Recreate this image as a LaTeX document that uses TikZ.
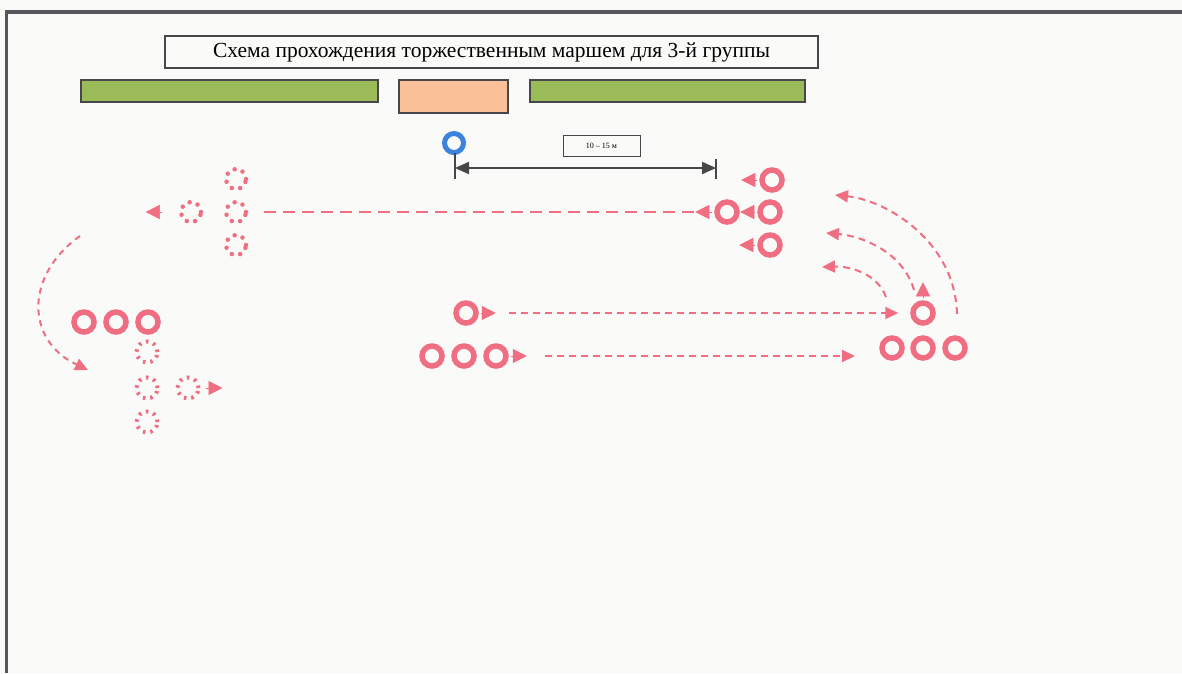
\documentclass[tikz,border=0pt]{standalone}
\usepackage{fontspec}
\setmainfont{Liberation Serif}
\usetikzlibrary{arrows.meta}
\definecolor{rd}{RGB}{240,110,130}
\definecolor{bg}{RGB}{250,250,248}
\definecolor{frm}{RGB}{88,86,92}
\definecolor{grn}{RGB}{155,187,89}
\definecolor{pch}{RGB}{250,192,152}
\definecolor{blu}{RGB}{60,130,222}
\definecolor{dim}{RGB}{70,70,75}
\begin{document}
\begin{tikzpicture}[x=1pt,y=-1pt,
  rc/.style={circle,draw=rd,line width=5.5pt,minimum size=20pt,inner sep=0pt},
  dcd/.style={circle,draw=rd,line width=4.5pt,minimum size=20pt,inner sep=0pt,dash pattern=on 0pt off 8.5pt,line cap=round},
  dcs/.style={circle,draw=rd,line width=4pt,minimum size=21pt,inner sep=0pt,dash pattern=on 2.5pt off 5pt},
  tipl/.style={draw=rd,line width=0.5pt,-{Triangle[length=14pt,width=14pt]}},
  longdash/.style={draw=rd,line width=2pt,dash pattern=on 12pt off 7pt},
  shortdash/.style={draw=rd,line width=2pt,dash pattern=on 7pt off 5pt,-{Triangle[length=13pt,width=12pt]}},
  bar/.style={draw=dim,line width=1.5pt,inner sep=0pt},
]
\fill[bg] (0,0) rectangle (1182,673);
\useasboundingbox (0,0) rectangle (1182,673);
% frame
\draw[frm,line width=4pt] (5,12) -- (1182,12);
\draw[frm,line width=3pt] (6.5,12) -- (6.5,673);
% title
\node[draw=dim,line width=1.2pt,minimum width=653pt,minimum height=32pt,inner sep=0pt,font=\fontsize{21.5}{24}\selectfont] (title) at (491.5,52) {Схема прохождения торжественным маршем для 3-й группы};
% bars
\node[bar,fill=grn,minimum width=297pt,minimum height=22pt] (gl) at (229.5,91) {};
\node[bar,fill=pch,minimum width=109pt,minimum height=33pt] (pk) at (453.5,96.5) {};
\node[bar,fill=grn,minimum width=275pt,minimum height=22pt] (gr) at (667.5,91) {};
% blue circle and dimension
\node[circle,draw=blu,line width=5pt,minimum size=19pt,inner sep=0pt] (bc) at (454,143) {};
\coordinate (tl1) at (455,153);
\coordinate (tl2) at (455,179);
\coordinate (tr1) at (716,159);
\coordinate (tr2) at (716,179);
\draw[dim,line width=2pt] (tl1) -- (tl2);
\draw[dim,line width=2pt] (tr1) -- (tr2);
\coordinate (dl) at (455,168);
\coordinate (dr) at (716,168);
\draw[dim,line width=2pt,{Triangle[length=14pt,width=12pt]}-{Triangle[length=14pt,width=12pt]}] (dl) -- (dr);
\node[draw=dim,line width=1pt,minimum width=77pt,minimum height=21pt,inner sep=0pt,font=\fontsize{8}{9}\selectfont] (lbl) at (601.5,146) {10 – 15 м};
% right group facing left
\node[rc] (r1) at (772,180) {};
\node[rc] (r2) at (770,212) {};
\node[rc] (r3) at (770,245) {};
\node[rc] (r4) at (727,212) {};
\draw[tipl] ([xshift=-2pt]r1.west) -- ++(-16,0);
\draw[tipl] ([xshift=-2pt]r2.west) -- ++(-15,0);
\draw[tipl] ([xshift=-2pt]r3.west) -- ++(-16,0);
\draw[tipl] ([xshift=-2pt]r4.west) -- ++(-17,0);
% top-left dotted group
\node[dcd] (d1) at (236,179) {};
\node[dcd] (d2) at (236,212) {};
\node[dcd] (d3) at (236,245) {};
\node[dcd] (d4) at (191,212) {};
\draw[tipl] ([xshift=-17pt]d4.west) -- ++(-16,0);
\draw[longdash] ([xshift=-20pt]r4.west) -- ([xshift=16pt]d2.east);
% left curved arrow
\coordinate (ca1) at (80,236);
\coordinate (ca2) at (88,370);
\draw[shortdash,dash pattern=on 6pt off 5pt] (ca1) .. controls (25,275) and (25,340) .. (ca2);
% left group
\node[rc] (l1) at (84,322) {};
\node[rc] (l2) at (116,322) {};
\node[rc] (l3) at (148,322) {};
\node[dcs] (e1) at (147,352) {};
\node[dcs] (e2) at (147,388) {};
\node[dcs] (e3) at (188,388) {};
\node[dcs] (e4) at (147,422) {};
\draw[tipl] ([xshift=5pt]e3.east) -- ++(17,0);
% middle group
\node[rc] (m1) at (466,313) {};
\draw[tipl] ([xshift=2pt]m1.east) -- ++(15,0);
\node[rc] (n1) at (432,356) {};
\node[rc] (n2) at (464,356) {};
\node[rc] (n3) at (496,356) {};
\draw[tipl] ([xshift=2pt]n3.east) -- ++(16,0);
% right bottom
\node[rc] (g) at (923,313) {};
\node[rc] (h1) at (892,348) {};
\node[rc] (h2) at (923,348) {};
\node[rc] (h3) at (955,348) {};
\draw[tipl] ([yshift=2pt]g.north) -- ++(0,-16);
\coordinate (mend) at (855,356);
\draw[shortdash] ([xshift=30pt]m1.east) -- ([xshift=-12pt]g.west);
\draw[shortdash] ([xshift=36pt]n3.east) -- (mend);
% curved arrows
\coordinate (c1s) at (886,297);
\coordinate (c1e) at (822,267);
\coordinate (c2s) at (914,290);
\coordinate (c2e) at (826,233);
\coordinate (c3s) at (957,314);
\coordinate (c3e) at (835,195);
\draw[shortdash] (c1s) .. controls (878,274) and (850,266) .. (c1e);
\draw[shortdash] (c2s) .. controls (903,252) and (862,236) .. (c2e);
\draw[shortdash] (c3s) .. controls (955,240) and (885,200) .. (c3e);
\end{tikzpicture}
\end{document}
